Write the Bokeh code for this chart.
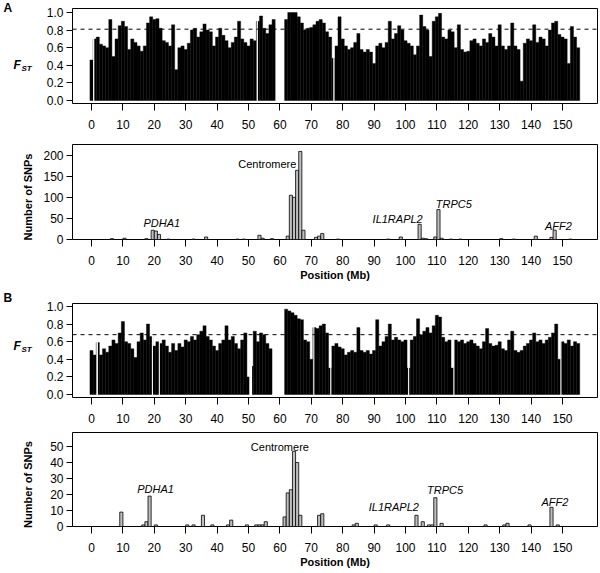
import math
from bokeh.plotting import figure
from bokeh.layouts import column, row
from bokeh.models import (FixedTicker, PrintfTickFormatter, Span, Label, Range1d,
                          ColumnDataSource)
from bokeh.core.properties import value
from bokeh.embed import file_html
from bokeh.resources import INLINE

FONT = "Liberation Sans"

# ---------------- data ----------------
# Panel A: Fst envelope per 1 Mb (positions in Mb)
fst_a_pos = list(range(0, 59)) + list(range(62, 156))
fst_a_val = [
    0.46, 0.70, 0.72, 0.64, 0.62, 0.60, 0.92, 0.50, 0.70, 0.85,
    0.90, 0.84, 0.58, 0.70, 0.66, 0.62, 0.56, 0.62, 0.88, 0.95,
    0.92, 0.93, 0.82, 0.68, 0.66, 0.62, 0.86, 0.35, 0.60, 0.62,
    0.58, 0.65, 0.80, 0.82, 0.72, 0.78, 0.87, 0.80, 0.78, 0.62,
    0.72, 0.82, 0.74, 0.68, 0.60, 0.66, 0.72, 0.90, 0.70, 0.66,
    0.62, 0.70, 0.68, 0.90, 0.96, 0.82, 0.76, 0.86, 0.92,
    0.92, 1.00, 1.00, 1.00, 0.95, 0.88, 0.80, 0.82, 0.83, 0.86,
    0.90, 0.92, 0.88, 0.78, 0.72, 0.48, 0.62, 0.95, 0.70, 0.62,
    0.58, 0.60, 0.66, 0.76, 0.58, 0.55, 0.58, 0.55, 0.42, 0.62,
    0.65, 0.60, 0.66, 0.90, 0.70, 0.76, 0.85, 0.80, 0.68, 0.65,
    0.62, 0.52, 0.62, 0.97, 0.84, 0.80, 0.50, 0.90, 0.95, 0.99,
    0.72, 0.70, 0.80, 0.78, 0.60, 0.86, 0.58, 0.55, 0.56, 0.68,
    0.70, 0.65, 0.62, 0.70, 0.66, 0.76, 0.72, 0.62, 0.86, 0.62,
    0.58, 0.62, 0.88, 0.62, 0.58, 0.22, 0.65, 0.70, 0.68, 0.86,
    0.66, 0.72, 0.70, 0.62, 0.80, 0.88, 0.90, 0.75, 0.72, 0.70,
    0.42, 0.84, 0.72, 0.60,
]
fst_a_threshold = 0.81
# narrow stretches without SNPs inside the Fst track (centre, width in Mb)
fst_a_gap_pos = [0.7, 52.8, 77.2]
fst_a_gap_w = [0.4, 0.4, 0.4]

# Panel A: number of SNPs above threshold per 1 Mb bin (bin centres)
snp_a_pos = [6.5, 10.5, 17.5, 19.5, 20.5, 21.5, 24.5, 32.5, 36.5, 46.5, 48.5,
             53.5, 54.5, 57.5, 62.5, 63.5, 64.5, 65.5, 66.5, 67.5, 71.5, 72.5,
             73.5, 78.5, 94.5, 98.5, 104.5, 105.5, 106.5, 109.5, 110.5, 111.5,
             114.5, 117.5, 130.5, 134.5, 141.5, 146.5, 147.5, 152.5]
snp_a_cnt = [2, 3, 2, 22, 20, 12, 1, 1, 6, 1, 1,
             10, 3, 2, 8, 105, 100, 164, 209, 22, 5, 8,
             14, 1, 1, 6, 36, 3, 2, 6, 71, 3,
             1, 1, 2, 1, 8, 5, 22, 1]

# Panel B: Fst envelope per 1 Mb
fst_b_pos = list(range(0, 58)) + list(range(62, 156))
fst_b_val = [
    0.50, 0.45, 0.59, 0.45, 0.52, 0.48, 0.55, 0.62, 0.58, 0.70,
    0.83, 0.60, 0.58, 0.52, 0.42, 0.60, 0.70, 0.62, 0.80, 0.66,
    0.55, 0.60, 0.58, 0.62, 0.55, 0.48, 0.58, 0.50, 0.58, 0.54,
    0.62, 0.60, 0.66, 0.62, 0.68, 0.72, 0.78, 0.66, 0.62, 0.55,
    0.50, 0.58, 0.62, 0.78, 0.62, 0.66, 0.58, 0.52, 0.62, 0.70,
    0.20, 0.32, 0.72, 0.60, 0.70, 0.68, 0.58, 0.52,
    0.97, 0.95, 0.93, 0.90, 0.86, 0.85, 0.62, 0.60, 0.40, 0.76,
    0.75, 0.78, 0.80, 0.70, 0.30, 0.55, 0.58, 0.54, 0.52, 0.45,
    0.48, 0.50, 0.48, 0.76, 0.50, 0.48, 0.50, 0.46, 0.50, 0.85,
    0.55, 0.60, 0.66, 0.80, 0.62, 0.65, 0.62, 0.60, 0.62, 0.30,
    0.62, 0.66, 0.86, 0.68, 0.72, 0.76, 0.70, 0.78, 0.90, 0.88,
    0.65, 0.60, 0.62, 0.30, 0.62, 0.60, 0.62, 0.58, 0.60, 0.62,
    0.58, 0.55, 0.52, 0.60, 0.75, 0.58, 0.55, 0.56, 0.60, 0.52,
    0.50, 0.62, 0.72, 0.50, 0.48, 0.50, 0.55, 0.58, 0.62, 0.70,
    0.60, 0.62, 0.58, 0.62, 0.65, 0.70, 0.80, 0.40, 0.60, 0.58,
    0.62, 0.55, 0.60, 0.58,
]
fst_b_threshold = 0.68
fst_b_gap_pos = [1.8, 19.4, 21.6, 50.7, 70.8, 76.2, 101.0, 115.4, 149.5]
fst_b_gap_w = [0.5, 0.35, 0.35, 0.9, 0.35, 0.35, 0.35, 0.35, 0.35]

snp_b_pos = [9.5, 16.5, 17.5, 18.5, 20.5, 30.5, 32.5, 35.5, 38.5, 43.5, 44.5,
             49.5, 52.5, 53.5, 54.5, 55.5, 61.5, 62.5, 63.5, 64.5, 65.5, 66.5,
             72.5, 73.5, 83.5, 84.5, 90.5, 94.5, 103.5, 105.5, 107.5, 108.5,
             109.5, 111.5, 125.5, 131.5, 132.5, 139.5, 146.5, 148.5]
snp_b_cnt = [9, 1, 3, 19, 1, 1, 1, 7, 1, 1, 4,
             1, 1, 1, 1, 3, 6, 21, 23, 47, 40, 7,
             7, 8, 1, 2, 1, 1, 7, 3, 1, 1,
             18, 2, 1, 1, 2, 1, 12, 1]

x_ticks = list(range(0, 151, 10))
fst_ticks = [0.0, 0.2, 0.4, 0.6, 0.8, 1.0]
snp_a_ticks = [0, 50, 100, 150, 200]
snp_b_ticks = [0, 10, 20, 30, 40, 50]

# gene annotations (name, x in Mb, y in counts)
genes = ["PDHA1", "Centromere", "IL1RAPL2", "TRPC5", "AFF2"]
gene_italic = [True, False, True, True, True]
gene_a_x = [22.4, 56.0, 97.5, 115.4, 148.7]
gene_a_y = [38.7, 180.0, 48.0, 84.0, 31.5]
gene_b_x = [20.4, 60.0, 96.3, 112.6, 147.6]
gene_b_y = [23.75, 50.0, 11.9, 23.1, 15.6]

# margin texts (page pixels, measured from the top-left)
panel_letters = ["A", "B"]
letter_px = [3, 3]
letter_py = [7.5, 297]
fst_label_px = [13, 13]
fst_label_py = [64.5, 345]
st_label_px = [21, 21]
st_label_py = [67.5, 348.5]
snp_label_px = [27, 27]
snp_label_py = [196.5, 484]

PAGE_H = 573
LEFT_W = 40
XR = (-6.05, 161.15)
TICK_FS = "12px"


def base_fig(height, top, bottom, yr, yticks, fmt=None):
    p = figure(width=600 - LEFT_W, height=height, x_range=Range1d(*XR), y_range=Range1d(*yr),
               output_backend="svg", toolbar_location=None,
               min_border_left=72 - LEFT_W, min_border_right=3,
               min_border_top=top, min_border_bottom=bottom)
    p.xgrid.visible = False
    p.ygrid.visible = False
    p.outline_line_color = "black"
    p.outline_line_width = 1
    p.outline_line_alpha = 1
    p.background_fill_color = "white"
    p.border_fill_color = "white"
    for ax in (p.xaxis[0], p.yaxis[0]):
        ax.axis_line_color = None
        ax.major_tick_line_color = "black"
        ax.minor_tick_line_color = None
        ax.major_tick_in = 0
        ax.major_label_text_font = FONT
        ax.major_label_text_font_size = TICK_FS
        ax.major_label_text_color = "black"
    p.xaxis.ticker = FixedTicker(ticks=x_ticks)
    p.xaxis.major_tick_out = 7
    p.xaxis.major_label_standoff = 9
    p.yaxis.ticker = FixedTicker(ticks=yticks)
    p.yaxis.major_tick_out = 6
    p.yaxis.major_label_standoff = 3
    if fmt:
        p.yaxis.formatter = PrintfTickFormatter(format=fmt)
    return p


def fst_panel(height, top, bottom, yr, pos, val, thr, gap_pos, gap_w):
    p = base_fig(height, top, bottom, yr, fst_ticks, "%.1f")
    src = ColumnDataSource(dict(x=pos, top=val))
    p.vbar(x="x", top="top", bottom=0, width=1.0, source=src,
           fill_color="black", line_color="black", line_width=0.4)
    gsrc = ColumnDataSource(dict(x=gap_pos, w=gap_w))
    p.vbar(x="x", top=1.0, bottom=-0.005, width="w", source=gsrc,
           fill_color="white", line_color=None)
    p.add_layout(Span(location=thr, dimension="width", line_color="black",
                      line_width=1, line_dash="4 4"))
    return p


def snp_panel(height, top, bottom, yr, yticks, pos, cnt, gx, gy):
    p = base_fig(height, top, bottom, yr, yticks)
    src = ColumnDataSource(dict(x=pos, top=cnt))
    p.vbar(x="x", top="top", bottom=0, width=1.0, source=src,
           fill_color="#bebebe", line_color="black", line_width=0.8)
    for name, it, x, y in zip(genes, gene_italic, gx, gy):
        p.add_layout(Label(x=x, y=y, text=name, text_font=FONT,
                           text_font_style="italic" if it else "normal",
                           text_font_size="11px", text_align="center",
                           text_baseline="middle", text_color="black"))
    p.xaxis.axis_label = "Position (Mb)"
    p.xaxis.axis_label_text_font = FONT
    p.xaxis.axis_label_text_font_style = "bold"
    p.xaxis.axis_label_text_font_size = "11px"
    p.xaxis.axis_label_text_color = "black"
    p.xaxis.axis_label_standoff = 1
    return p


p1 = fst_panel(136, 8, 33, (-0.034, 1.045), fst_a_pos, fst_a_val, fst_a_threshold,
               fst_a_gap_pos, fst_a_gap_w)
p2 = snp_panel(154, 8, 51, (0, 225.4), snp_a_ticks, snp_a_pos, snp_a_cnt, gene_a_x, gene_a_y)
p3 = fst_panel(138, 13, 31, (-0.034, 1.034), fst_b_pos, fst_b_val, fst_b_threshold,
               fst_b_gap_pos, fst_b_gap_w)
p4 = snp_panel(145, 4, 47, (0, 58.75), snp_b_ticks, snp_b_pos, snp_b_cnt, gene_b_x, gene_b_y)

# left margin strip carrying panel letters and y-axis titles
m = figure(width=LEFT_W, height=PAGE_H, x_range=Range1d(0, LEFT_W), y_range=Range1d(0, PAGE_H),
           output_backend="svg", toolbar_location=None,
           x_axis_location=None, y_axis_location=None,
           min_border_left=0, min_border_right=0, min_border_top=0, min_border_bottom=0)
m.outline_line_color = None
m.grid.visible = False
m.background_fill_color = "white"
m.border_fill_color = "white"


def flip(ys):
    return [PAGE_H - y for y in ys]


m.text(x=letter_px, y=flip(letter_py), text=panel_letters, text_font=value(FONT),
       text_font_size="12px", text_font_style="bold", text_align="left",
       text_baseline="middle", text_color="black")
m.text(x=fst_label_px, y=flip(fst_label_py), text=["F", "F"], text_font=value(FONT),
       text_font_size="12px", text_font_style="bold italic", text_align="left",
       text_baseline="middle", text_color="black")
m.text(x=st_label_px, y=flip(st_label_py), text=["ST", "ST"], text_font=value(FONT),
       text_font_size="8px", text_font_style="bold italic", text_align="left",
       text_baseline="middle", text_color="black")
m.text(x=snp_label_px, y=flip(snp_label_py), text=["Number of SNPs", "Number of SNPs"],
       text_font=value(FONT), text_font_size="11px", text_font_style="bold",
       text_align="center", text_baseline="middle", angle=math.pi / 2, text_color="black")

layout = row(m, column(p1, p2, p3, p4, spacing=0), spacing=0)
open("out.html", "w").write(file_html(layout, INLINE))
